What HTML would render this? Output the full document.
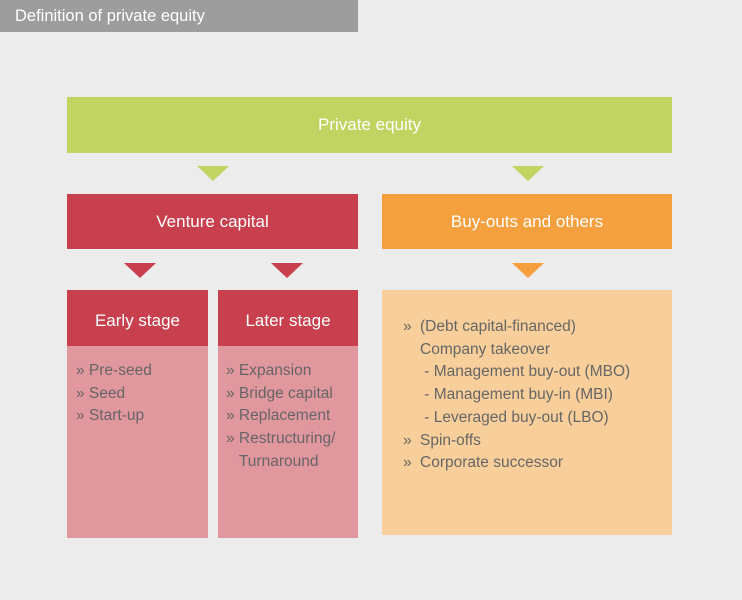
<!DOCTYPE html>
<html><head><style>
body{margin:0;width:742px;height:600px;background:#ececec;font-family:"Liberation Sans",sans-serif;position:relative;overflow:hidden}
div{position:absolute;box-sizing:border-box}
.h{color:#fff;font-size:17px;display:flex;align-items:center;justify-content:center}
.t{color:#666;font-size:15.5px;line-height:22.7px}
.tri{width:0;height:0;border-left:16px solid transparent;border-right:16px solid transparent}
</style></head><body>
<div style="left:0;top:0;width:358px;height:32px;background:#9d9d9d;color:#fff;font-size:16.5px;padding:7px 0 0 15px">Definition of private equity</div>
<div class="h" style="left:67px;top:97px;width:605px;height:56px;background:#c1d461">Private equity</div>
<div class="tri" style="left:197px;top:166px;border-top:15px solid #c1d461"></div>
<div class="tri" style="left:512px;top:166px;border-top:15px solid #c1d461"></div>
<div class="h" style="left:67px;top:194px;width:291px;height:55px;background:#c8404e">Venture capital</div>
<div class="h" style="left:382px;top:194px;width:290px;height:55px;background:#f5a03e">Buy-outs and others</div>
<div class="tri" style="left:124px;top:263px;border-top:15px solid #c8404e"></div>
<div class="tri" style="left:271px;top:263px;border-top:15px solid #c8404e"></div>
<div class="tri" style="left:512px;top:263px;border-top:15px solid #f5a03e"></div>
<div style="left:67px;top:290px;width:141px;height:248px;background:#e0979e"></div>
<div class="h" style="left:67px;top:293px;width:141px;height:56px;background:transparent"></div>
<div class="h" style="left:67px;top:290px;width:141px;height:56px;background:#c8404e;padding-top:5px">Early stage</div>
<div class="t" style="left:76px;top:360px">» Pre-seed<br>» Seed<br>» Start-up</div>
<div style="left:218px;top:290px;width:140px;height:248px;background:#e0979e"></div>
<div class="h" style="left:218px;top:290px;width:140px;height:56px;background:#c8404e;padding-top:5px">Later stage</div>
<div class="t" style="left:226px;top:360px">» Expansion<br>» Bridge capital<br>» Replacement<br>» Restructuring/<br>&nbsp;&nbsp;&nbsp;Turnaround</div>
<div style="left:382px;top:290px;width:290px;height:245px;background:#f8cf9a"></div>
<div class="t" style="left:403px;top:316px">»</div>
<div class="t" style="left:420px;top:316px">(Debt capital-financed)<br>Company takeover<br>&nbsp;- Management buy-out (MBO)<br>&nbsp;- Management buy-in (MBI)<br>&nbsp;- Leveraged buy-out (LBO)<br>Spin-offs<br>Corporate successor</div>
<div class="t" style="left:403px;top:429.5px">»<br>»</div>
</body></html>
